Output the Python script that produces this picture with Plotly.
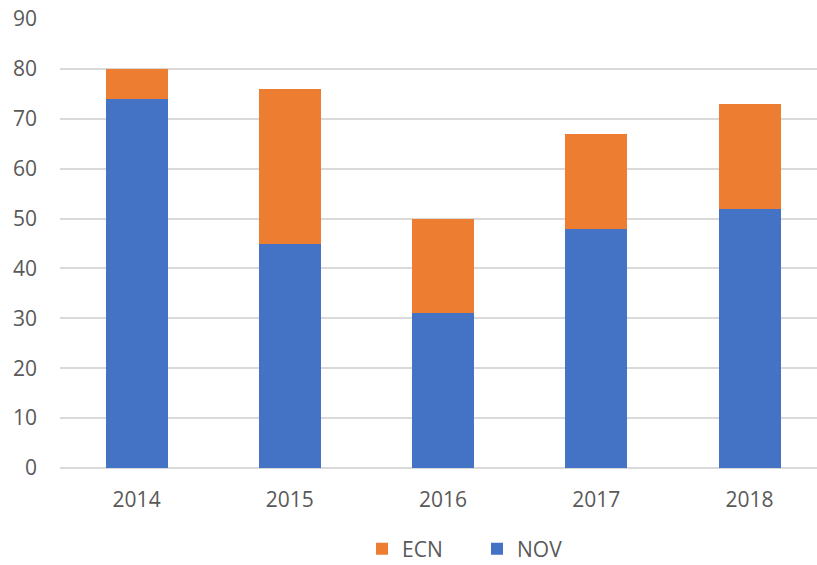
import plotly.graph_objects as go

years = ["2014", "2015", "2016", "2017", "2018"]
nov = [74, 45, 31, 48, 52]
ecn = [6, 31, 19, 19, 21]
y_ticks = [0, 10, 20, 30, 40, 50, 60, 70, 80, 90]

font = dict(family="Open Sans, Liberation Sans, sans-serif", size=21, color="#595959")

fig = go.Figure()
fig.add_trace(go.Bar(name="NOV", x=years, y=nov, marker_color="#4472C4", width=0.405,
                     marker_line_width=0))
fig.add_trace(go.Bar(name="ECN", x=years, y=ecn, marker_color="#ED7D31", width=0.405,
                     marker_line_width=0))

fig.update_layout(
    barmode="stack",
    width=817, height=565,
    margin=dict(l=60, r=0, t=19, b=97, autoexpand=False),
    paper_bgcolor="white", plot_bgcolor="white",
    font=font,
    showlegend=True,
    legend=dict(orientation="h", traceorder="reversed", xref="container", yref="container",
                x=362 / 817, xanchor="left", y=16 / 565, yanchor="middle",
                font=dict(size=21, color="#595959"), entrywidth=70, itemsizing="constant"),
    xaxis=dict(type="category", range=[-0.5, 4.44], showgrid=False, showline=False,
               ticks="", tickfont=font, ticklabelstandoff=17, automargin=False),
    yaxis=dict(range=[0, 90], tickvals=y_ticks, showgrid=True, gridcolor="#d9d9d9",
               gridwidth=1.5, zeroline=True, zerolinecolor="#d9d9d9", zerolinewidth=1.5,
               showline=False, ticks="", tickfont=font, ticklabelstandoff=22,
               automargin=False),
)

fig.write_html("out.html", config={"displayModeBar": False},
               post_script="document.body.style.margin='0px';")
